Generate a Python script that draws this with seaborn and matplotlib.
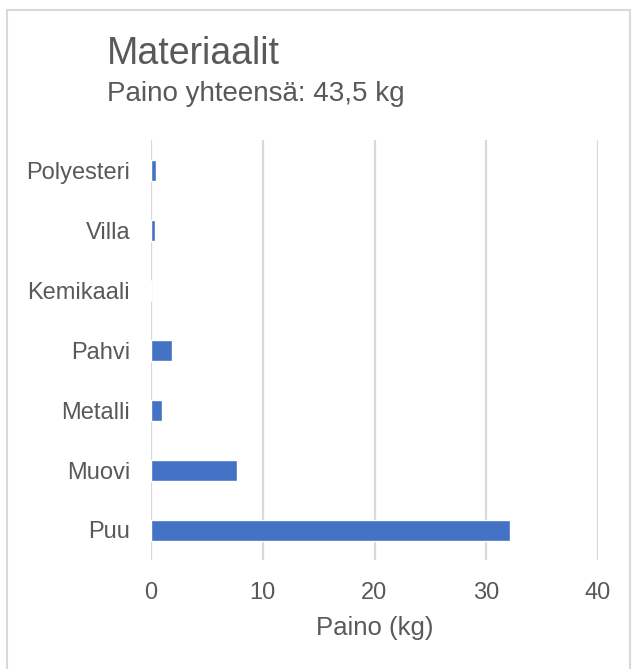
import matplotlib
matplotlib.use("Agg")
import matplotlib.pyplot as plt
import seaborn as sns
import pandas as pd
from matplotlib.patches import Rectangle

categories = ["Polyesteri", "Villa", "Kemikaali", "Pahvi", "Metalli", "Muovi", "Puu"]
values = [0.42, 0.33, 0.0, 1.85, 0.96, 7.66, 32.1]
xticks = [0, 10, 20, 30, 40]

sns.set_theme(style="white")
plt.rcParams['font.family'] = ['Liberation Sans', 'DejaVu Sans']

df = pd.DataFrame({"Materiaali": categories, "Paino": values})

fig = plt.figure(figsize=(6.33, 6.69), dpi=100)
ax = fig.add_axes([151/633, 1-560/669, 447/633, 420/669])

sns.barplot(data=df, x="Paino", y="Materiaali", order=categories, orient="h",
            color="#4472C4", saturation=1, width=0.35, ax=ax, zorder=3)

ax.set_xlim(0, 40)
ax.set_ylim(6.5, -0.5)
ax.set_xticks(xticks)
ax.set_xticklabels([str(t) for t in xticks])
ax.xaxis.grid(True, color="#d9d9d9", linewidth=1.6, zorder=0)
ax.yaxis.grid(False)
for s in ax.spines.values():
    s.set_visible(False)
ax.tick_params(axis="both", length=0, labelsize=17, labelcolor="#595959")
ax.tick_params(axis="x", pad=15.5)
ax.tick_params(axis="y", pad=15)
ax.set_ylabel("")
ax.set_xlabel("")

fig.text(374.5/633, 1-635/669, "Paino (kg)", fontsize=18.5, color="#595959", ha="center", va="baseline")
fig.text(107/633, 1-64/669, "Materiaalit", fontsize=27, color="#595959", ha="left", va="baseline")
fig.text(107/633, 1-101/669, "Paino yhteensä: 43,5 kg", fontsize=20, color="#595959", ha="left", va="baseline")

fig.patches.append(Rectangle((6.5/633, -10/669), 623/633, 669/669, transform=fig.transFigure,
                             fill=False, edgecolor="#d9d9d9", linewidth=1.5))

fig.savefig("out.png", dpi=100)
